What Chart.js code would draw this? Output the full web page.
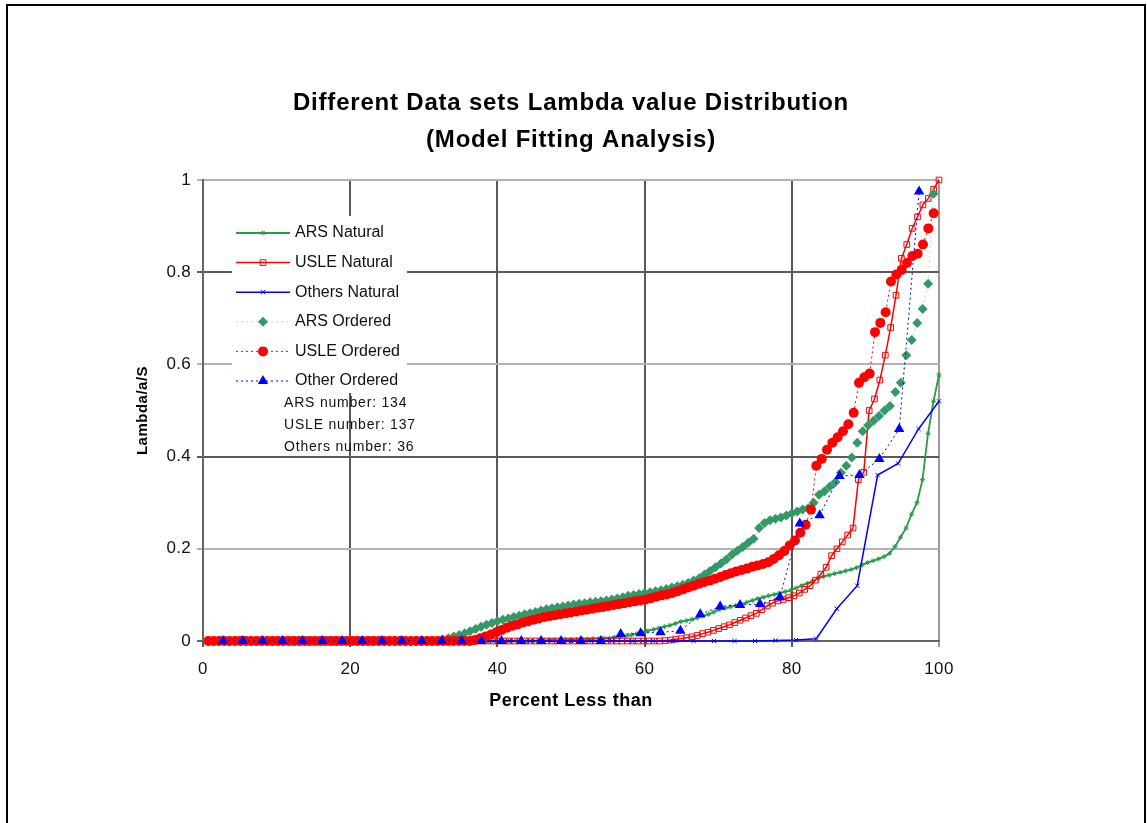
<!DOCTYPE html>
<html>
<head>
<meta charset="utf-8">
<script src="https://cdn.jsdelivr.net/npm/chart.js@4.4.1/dist/chart.umd.min.js"></script>
<style>
  html, body { margin: 0; padding: 0; background: #fff; overflow: hidden; width: 1147px; height: 823px; }
  #frame { position: absolute; left: 6px; top: 4px; width: 1140px; height: 860px; border: 2px solid #000; box-sizing: border-box; }
  #c { position: absolute; left: 0; top: 0; }
</style>
</head>
<body>
<div id="frame"></div>
<canvas id="c" width="1147" height="823"></canvas>
<script>
// ---------------- DATA ----------------
const titleLines = ['Different Data sets Lambda value Distribution', '(Model Fitting Analysis)'];
const xAxisTitle = 'Percent Less than';
const yAxisTitle = 'Lambda/a/S';
const xTickStep = 20;
const yTickStep = 0.2;
const seriesLabels = ['ARS Natural', 'USLE Natural', 'Others Natural', 'ARS Ordered', 'USLE Ordered', 'Other Ordered'];
const noteLines = ['ARS number: 134', 'USLE number: 137', 'Others number: 36'];

// ARS: 134 values, sorted
const arsNatural = [
  0,0,0,0,0,0,0,0,0,0,
  0,0,0,0,0,0,0,0,0,0,
  0,0,0,0,0,0,0,0,0,0,
  0,0,0,0,0,0,0,0,0,0,
  0,0,0,0,0,0,0,0,0,0,
  0,0,0,0,0,0,0,0,0,0,
  0.001,0.001,0.002,0.002,0.002,0.003,0.003,0.003,0.004,0.004,
  0.005,0.005,0.006,0.006,0.008,0.009,0.011,0.013,0.016,0.019,
  0.022,0.025,0.028,0.031,0.034,0.038,0.042,0.044,0.047,0.05,
  0.054,0.058,0.063,0.068,0.071,0.074,0.077,0.08,0.084,0.088,
  0.092,0.095,0.098,0.101,0.104,0.107,0.11,0.115,0.12,0.125,
  0.13,0.136,0.14,0.143,0.146,0.149,0.152,0.155,0.159,0.165,
  0.17,0.174,0.178,0.183,0.19,0.205,0.225,0.245,0.275,0.3,
  0.35,0.45,0.52,0.577
];
const arsOrdered = [
  0,0,0,0,0,0,0,0,0,0,
  0,0,0,0,0,0,0,0,0,0,
  0,0,0,0,0,0,0,0,0,0,
  0,0,0,0,0,0,0,0,0,0,
  0,0,0,
  0.003,0.006,0.01,0.013,0.017,0.021,0.026,0.031,0.035,0.039,
  0.043,0.046,0.049,0.052,0.055,0.058,0.06,0.063,0.066,0.069,
  0.071,0.073,0.075,0.077,0.079,0.081,0.082,0.084,0.085,0.086,
  0.088,0.09,0.092,0.095,0.098,0.1,0.102,0.104,0.106,0.108,
  0.11,0.113,0.116,0.119,0.122,0.126,0.131,0.136,0.144,0.152,
  0.16,0.168,0.177,0.187,0.196,0.204,0.213,0.222,0.245,0.256,
  0.262,0.265,0.268,0.272,0.277,0.281,0.285,0.288,0.3,0.317,
  0.325,0.335,0.345,0.365,0.38,0.398,0.43,0.455,0.468,0.478,
  0.488,0.5,0.51,0.54,0.56,0.62,0.653,0.69,0.72,0.775,
  0.97
];
// USLE: 137 values
const usleNatural = [
  0,0,0,0,0,0,0,0,0,0,
  0,0,0,0,0,0,0,0,0,0,
  0,0,0,0,0,0,0,0,0,0,
  0,0,0,0,0,0,0,0,0,0,
  0,0,0,0,0,0,0,0,0,0,
  0,0,0,0,0,0,0,0,0,0,
  0,0,0,0,0,0,0,0,0,0,
  0,0,0,0,0,0,0,0,0,0,
  0,0,0,0,0,
  0.001,0.002,0.004,0.005,0.007,0.009,0.012,0.016,0.019,0.023,
  0.027,0.031,0.035,0.04,0.045,0.05,0.055,0.06,0.068,0.076,
  0.082,0.087,0.09,0.094,0.098,0.104,0.112,0.12,0.132,0.145,
  0.16,0.185,0.2,0.215,0.23,0.245,0.35,0.366,0.5,0.525,
  0.566,0.62,0.68,0.75,0.83,0.86,0.895,0.92,0.946,0.96,
  0.98,1.0
];
const usleOrdered = [
  0,0,0,0,0,0,0,0,0,0,
  0,0,0,0,0,0,0,0,0,0,
  0,0,0,0,0,0,0,0,0,0,
  0,0,0,0,0,0,0,0,0,0,
  0,0,0,0,0,0,0,0,0,0,
  0.002,0.006,0.01,0.014,0.019,0.024,0.029,0.033,0.036,0.04,
  0.043,0.046,0.049,0.052,0.054,0.056,0.058,0.06,0.062,0.064,
  0.066,0.068,0.07,0.072,0.074,0.076,0.078,0.08,0.082,0.084,
  0.086,0.088,0.09,0.093,0.096,0.099,0.101,0.104,0.108,0.112,
  0.116,0.12,0.124,0.128,0.131,0.135,0.139,0.143,0.147,0.151,
  0.154,0.157,0.161,0.164,0.167,0.171,0.178,0.186,0.195,0.207,
  0.218,0.235,0.252,0.285,0.38,0.395,0.415,0.43,0.442,0.455,
  0.47,0.495,0.56,0.572,0.58,0.67,0.69,0.713,0.78,0.795,
  0.805,0.82,0.835,0.84,0.86,0.895,0.928
];
// Others: 36 values
const othersNatural = [
  0,0,0,0,0,0,0,0,0,0,
  0,0,0,0,0,0,0,0,0,0,
  0,0,0,0,0,0,0,
  0.001,0.002,0.005,0.07,0.12,0.36,0.385,0.46,0.52
];
const othersOrdered = [
  0,0,0,0,0,0,0,0,0,0,
  0,0,0,0,0,0,0,0,0,0,
  0.015,0.017,0.019,0.022,0.058,0.075,0.078,0.08,0.095,0.255,
  0.273,0.358,0.36,0.395,0.46,0.975
];

// percent-less-than positions (rank / n for natural, rank / (n+1) for ordered)
function naturalPoints(vals) { return vals.map((y, i) => ({ x: (i + 1) / vals.length * 100, y })); }
function orderedPoints(vals) { return vals.map((y, i) => ({ x: (i + 1) / (vals.length + 1) * 100, y })); }

// ---------------- STYLE ----------------
const FONT = '"Liberation Sans", Arial, Helvetica, sans-serif';
const GREEN = '#339966', NAT_GREEN = '#2a9a48', RED = '#ff0000', BLUE = '#0000ff';

const datasets = [
  { label: seriesLabels[0], data: naturalPoints(arsNatural), borderColor: NAT_GREEN, backgroundColor: NAT_GREEN,
    borderWidth: 1.8, pointStyle: 'star', pointRadius: 2.5, pointBorderWidth: 1, order: 6 },
  { label: seriesLabels[1], data: naturalPoints(usleNatural), borderColor: RED, backgroundColor: 'rgba(255,255,255,0)',
    pointBorderColor: RED, borderWidth: 1.5, pointStyle: 'rect', pointRadius: 4, pointBorderWidth: 1, order: 5 },
  { label: seriesLabels[2], data: naturalPoints(othersNatural), borderColor: BLUE, backgroundColor: BLUE,
    borderWidth: 1.5, pointStyle: 'crossRot', pointRadius: 3, pointBorderWidth: 1, order: 4 },
  { label: seriesLabels[3], data: orderedPoints(arsOrdered), borderColor: 'rgba(51,153,102,0.35)', backgroundColor: GREEN,
    pointBorderColor: GREEN, borderWidth: 1, borderDash: [2, 3], pointStyle: 'rectRot', pointRadius: 5, pointBorderWidth: 0, order: 3 },
  { label: seriesLabels[4], data: orderedPoints(usleOrdered), borderColor: RED, backgroundColor: RED,
    pointBorderColor: RED, borderWidth: 1, borderDash: [2, 3], pointStyle: 'circle', pointRadius: 5, pointBorderWidth: 0, order: 2 },
  { label: seriesLabels[5], data: orderedPoints(othersOrdered), borderColor: BLUE, backgroundColor: BLUE,
    pointBorderColor: BLUE, borderWidth: 1, borderDash: [2, 3], pointStyle: 'triangle', pointRadius: 6, pointBorderWidth: 0, order: 1 }
];
datasets.forEach(d => { d.showLine = true; d.tension = 0; d.clip = false; d.fill = false; });

function yGridColor(ctx) {
  const v = ctx.tick ? Math.round(ctx.tick.value * 10) / 10 : 0;
  if (v === 0.4 || v === 0.8) return '#5a5a5a';
  if (v === 0) return '#666';
  return '#b4b4b4';
}
function xGridColor(ctx) {
  const v = ctx.tick ? ctx.tick.value : 0;
  if (v === 100) return '#9a9a9a';
  return '#5a5a5a';
}

// custom-drawn titles, in-plot legend and notes
const textPlugin = {
  id: 'textDecor',
  beforeDraw(chart) {
    chart.ctx.letterSpacing = '0.3px';
  },
  afterDraw(chart) {
    const ctx = chart.ctx, a = chart.chartArea;
    ctx.save();
    // titles
    ctx.fillStyle = '#000';
    ctx.textAlign = 'center';
    ctx.textBaseline = 'middle';
    ctx.letterSpacing = '0.8px';
    ctx.font = 'bold 24px ' + FONT;
    titleLines.forEach((t, i) => ctx.fillText(t, 571, 103 + i * 37));
    ctx.letterSpacing = '0.5px';
    ctx.font = 'bold 18px ' + FONT;
    ctx.fillText(xAxisTitle, (a.left + a.right) / 2, a.bottom + 60);
    ctx.save();
    ctx.letterSpacing = '0.5px';
    ctx.font = 'bold 15px ' + FONT;
    ctx.translate(a.left - 60, (a.top + a.bottom) / 2);
    ctx.rotate(-Math.PI / 2);
    ctx.fillText(yAxisTitle, 0, 0);
    ctx.restore();

    // legend box
    ctx.fillStyle = '#fff';
    ctx.fillRect(a.left + 29, a.top + 36, 175, 177);
    chart.data.datasets.forEach((ds, i) => {
      const y = a.top + 53 + i * 29.6;
      ctx.save();
      ctx.strokeStyle = ds.borderColor;
      ctx.lineWidth = ds.borderWidth;
      ctx.setLineDash(ds.borderDash || []);
      ctx.beginPath();
      ctx.moveTo(a.left + 33, y);
      ctx.lineTo(a.left + 87, y);
      ctx.stroke();
      ctx.setLineDash([]);
      ctx.fillStyle = ds.backgroundColor;
      ctx.strokeStyle = ds.pointBorderColor || ds.borderColor;
      ctx.lineWidth = ds.pointBorderWidth || 1;
      Chart.helpers.drawPoint(ctx, { pointStyle: ds.pointStyle, radius: ds.pointRadius, rotation: 0, borderWidth: ds.pointBorderWidth }, a.left + 60, y);
      ctx.restore();
      ctx.fillStyle = '#111';
      ctx.letterSpacing = '0px';
      ctx.font = '16px ' + FONT;
      ctx.textBaseline = 'middle';
      ctx.textAlign = 'left';
      ctx.fillText(ds.label, a.left + 92, y);
    });
    ctx.letterSpacing = '0.8px';
    ctx.font = '14px ' + FONT;
    ctx.fillStyle = '#111';
    ctx.textAlign = 'left';
    ctx.textBaseline = 'middle';
    noteLines.forEach((t, j) => ctx.fillText(t, a.left + 81, a.top + 223 + j * 22));
    ctx.restore();
  }
};

new Chart(document.getElementById('c'), {
  type: 'scatter',
  data: { datasets },
  options: {
    responsive: false,
    animation: false,
    devicePixelRatio: 1,
    layout: { padding: { left: 135, right: 208, top: 180, bottom: 114 } },
    plugins: {
      legend: { display: false },
      tooltip: { enabled: false },
      title: { display: false }
    },
    scales: {
      x: {
        type: 'linear', min: 0, max: 100,
        ticks: { stepSize: xTickStep, color: '#111', font: { family: FONT, size: 17 }, padding: 12 },
        grid: { color: xGridColor, lineWidth: 2, tickLength: 6 },
        border: { color: '#666', width: 2 },
        title: { display: false },
        afterFit: s => { s.height = 68; }
      },
      y: {
        type: 'linear', min: 0, max: 1,
        ticks: { stepSize: yTickStep, color: '#111', font: { family: FONT, size: 17 }, padding: 6,
                 callback: v => String(Number(v.toFixed(1))) },
        grid: { color: yGridColor, lineWidth: 2, tickLength: 6 },
        border: { color: '#666', width: 2 },
        title: { display: false },
        afterFit: s => { s.width = 68; }
      }
    }
  },
  plugins: [textPlugin]
});
</script>
</body>
</html>
